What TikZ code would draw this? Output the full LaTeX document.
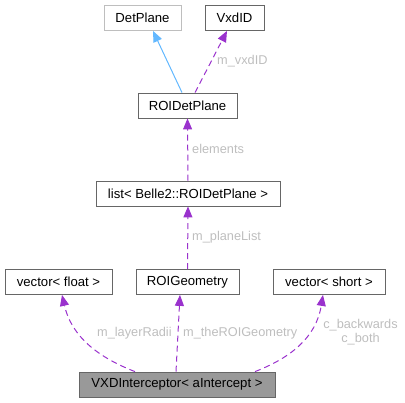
\documentclass[tikz,border=0pt]{standalone}
\usepackage{fontspec}
\setmainfont{Liberation Sans}
\usetikzlibrary{arrows.meta}

\definecolor{edgepurple}{HTML}{9A32CD}
\definecolor{edgeblue}{HTML}{63B8FF}
\definecolor{boxgrey}{HTML}{666666}
\definecolor{labelgrey}{HTML}{BEBEBE}

\tikzset{
  classbox/.style={draw=boxgrey, line width=0.8bp, fill=white, inner sep=0pt,
    minimum height=25bp, font=\fontsize{13.2}{15}\selectfont},
  usage/.style={draw=edgepurple, line width=1bp, dash pattern=on 6bp off 4bp,
    -{Triangle[length=11bp,width=9bp]}},
  inherit/.style={draw=edgeblue, line width=1bp, -{Triangle[length=11bp,width=9bp]}},
  edgelabel/.style={text=labelgrey, inner sep=0pt, font=\fontsize{12.8}{14}\selectfont}
}

\begin{document}
\begin{tikzpicture}[x=1bp, y=-1bp]

  \useasboundingbox (0,0) rectangle (405,403);

  % classes
  \node[classbox, draw=labelgrey, minimum width=77bp] (detplane) at (142.5,18) {DetPlane};
  \node[classbox, minimum width=59bp] (vxdid) at (234.5,18) {VxdID};
  \node[classbox, minimum width=99bp] (roidet) at (187.5,105.5) {ROIDetPlane};
  \node[classbox, minimum width=184bp] (planelist) at (188,193.5) {list< Belle2::ROIDetPlane >};
  \node[classbox, minimum width=107bp] (vecfloat) at (58.5,282) {vector< float >};
  \node[classbox, minimum width=103bp] (roigeo) at (187.5,282) {ROIGeometry};
  \node[classbox, minimum width=112bp] (vecshort) at (329,282) {vector< short >};
  \node[classbox, fill=black!40, minimum width=196bp] (vxd) at (177,384.5) {VXDInterceptor< aIntercept >};

  % edges
  \draw[inherit] ([xshift=-5.5bp]roidet.north) -- ([xshift=10.5bp]detplane.south);
  \draw[usage] ([xshift=7.5bp]roidet.north) -- ([xshift=-7.5bp]vxdid.south);
  \draw[usage] (planelist.north) -- (roidet.south);
  \draw[usage] (roigeo.north) -- (planelist.south);
  \draw[usage] ([xshift=-42bp]vxd.north) .. controls (100,358) and (72,338) .. ([xshift=3.5bp]vecfloat.south);
  \draw[usage] ([xshift=-1bp]vxd.north) -- ([xshift=-7.5bp]roigeo.south);
  \draw[usage] ([xshift=78bp]vxd.north) .. controls (290,358) and (316,338) .. ([xshift=-6bp]vecshort.south);

  % edge labels
  \node[edgelabel, anchor=west] (lvxdid) at (217,61) {m\_vxdID};
  \node[edgelabel, anchor=west] (lelements) at (192,149) {elements};
  \node[edgelabel, anchor=west] (lplanelist) at (192,237) {m\_planeList};
  \node[edgelabel, anchor=west] (lradii) at (97,333) {m\_layerRadii};
  \node[edgelabel, anchor=west] (lroigeo) at (183,333) {m\_theROIGeometry};
  \node[edgelabel, align=center] (lshort) at (360.5,332) {c\_backwards\\c\_both};

\end{tikzpicture}
\end{document}
